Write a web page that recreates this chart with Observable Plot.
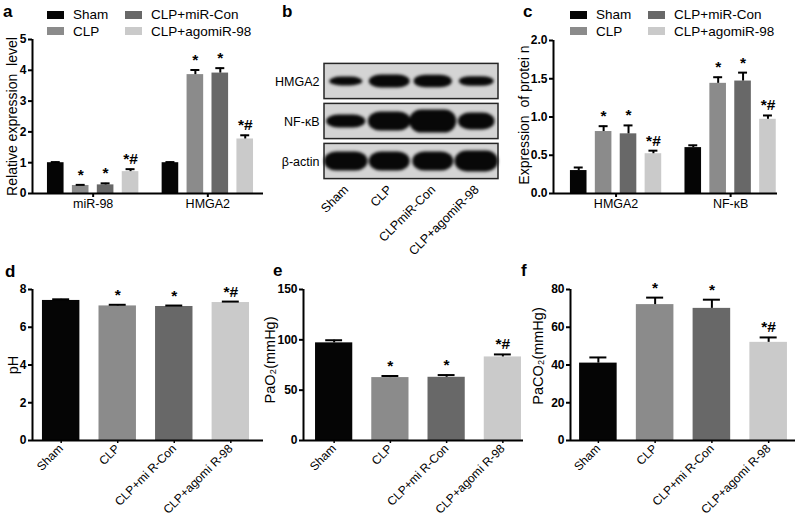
<!DOCTYPE html>
<html>
<head>
<meta charset="utf-8">
<script src="https://cdn.jsdelivr.net/npm/d3@7"></script>
<script src="https://cdn.jsdelivr.net/npm/@observablehq/plot@0.6"></script>
<style>
html,body{margin:0;padding:0;background:#fff}
#fig{position:relative;width:800px;height:517px;overflow:hidden;background:#fff;font-family:"Liberation Sans",Arial,sans-serif;color:#000}
#fig svg{position:absolute}
#fig svg text{white-space:pre}
.plab{position:absolute;font-weight:bold;font-size:17px;line-height:17px}
.legwrap{position:absolute;width:156px}
.legwrap div,.legwrap span{overflow:visible !important;font-family:"Liberation Sans",Arial,sans-serif !important;font-size:13.5px !important;line-height:15.5px !important;color:#000 !important}
.legwrap>div{margin:0 !important;columns:2 !important;column-gap:0 !important}
.legwrap svg{margin-right:9px !important;position:static !important}
</style>
</head>
<body>
<div id="fig"></div>
<script>
// ---------- data ----------
const groups = ["Sham", "CLP", "CLP+miR-Con", "CLP+agomiR-98"];
const groupColors = ["#050505", "#8b8b8b", "#686868", "#cacaca"];

// panel a
const aCategories = ["miR-98", "HMGA2"];
const aMeans = [[1.0, 0.26, 0.28, 0.71], [1.0, 3.86, 3.91, 1.77]];
const aErrors = [[0.02, 0.02, 0.05, 0.08], [0.02, 0.15, 0.16, 0.12]];
const aSig = [["", "*", "*", "*#"], ["", "*", "*", "*#"]];
const aTicks = [0, 1, 2, 3, 4, 5];

// panel b (western blot)
const blotRows = ["HMGA2", "NF-κB", "β-actin"];
const blotLanes = ["Sham", "CLP", "CLPmiR-Con", "CLP+agomiR-98"];
const bandWidths = [[0.76, 0.94, 0.88, 0.8], [0.9, 0.98, 1.08, 0.84], [1.0, 0.94, 0.94, 1.0]];
const bandThickness = [[0.22, 0.32, 0.31, 0.24], [0.32, 0.48, 0.58, 0.42], [0.48, 0.48, 0.48, 0.52]];

// panel c
const cCategories = ["HMGA2", "NF-κB"];
const cMeans = [[0.30, 0.81, 0.78, 0.52], [0.60, 1.44, 1.47, 0.97]];
const cErrors = [[0.04, 0.07, 0.11, 0.04], [0.03, 0.08, 0.11, 0.05]];
const cSig = [["", "*", "*", "*#"], ["", "*", "*", "*#"]];
const cTicks = [0, 0.5, 1, 1.5, 2];

// panels d, e, f
const bloodLabels = ["Sham", "CLP", "CLP+mi R-Con", "CLP+agomi R-98"];
const bloodSig = ["", "*", "*", "*#"];
const pHMeans = [7.42, 7.13, 7.10, 7.31];
const pHErrors = [0.06, 0.06, 0.05, 0.05];
const pHTicks = [0, 2, 4, 6, 8];
const paO2Means = [97, 62.5, 62.8, 83];
const paO2Errors = [2.6, 1.6, 2.2, 2.5];
const paO2Ticks = [0, 50, 100, 150];
const paCO2Means = [41, 72, 70, 52];
const paCO2Errors = [3, 3.7, 4.6, 2.6];
const paCO2Ticks = [0, 20, 40, 60, 80];

// ---------- helpers ----------
const FONT = '"Liberation Sans", Arial, sans-serif';
const fig = document.getElementById("fig");
function place(el, left, top) {
  el.style.position = "absolute";
  el.style.left = left + "px";
  el.style.top = top + "px";
  fig.appendChild(el);
}
const baseStyle = {fontFamily: FONT, color: "#000", background: "none", overflow: "visible"};

const GAP = 0.6, HALF = 0.333;
function groupedPanel(cfg) {
  const n = groups.length;
  const rows = [];
  cfg.cats.forEach((c, gi) => groups.forEach((g, si) => rows.push({
    group: g, pos: gi * (n + GAP) + si, v: cfg.means[gi][si], e: cfg.errs[gi][si], s: cfg.sig[gi][si]
  })));
  const centers = cfg.cats.map((c, gi) => gi * (n + GAP) + (n - 1) / 2);
  const last = (cfg.cats.length - 1) * (n + GAP) + n - 1;
  const xDomain = [-HALF - cfg.padL, last + HALF + cfg.padR];
  const yMax = cfg.ticks[cfg.ticks.length - 1];
  return Plot.plot({
    width: cfg.width, height: cfg.height,
    marginLeft: cfg.m[0], marginRight: cfg.m[1], marginTop: cfg.m[2], marginBottom: cfg.m[3],
    style: baseStyle,
    x: {domain: xDomain},
    y: {domain: [0, yMax]},
    color: {domain: groups, range: groupColors},
    marks: [
      Plot.rect(rows, {x1: d => d.pos - HALF, x2: d => d.pos + HALF, y1: 0, y2: "v", fill: "group"}),
      Plot.ruleX(rows, {x: "pos", y1: "v", y2: d => d.v + d.e, strokeWidth: 2}),
      Plot.ruleY(rows, {y: d => d.v + d.e, x1: d => d.pos - cfg.cap, x2: d => d.pos + cfg.cap, strokeWidth: 2}),
      Plot.text(rows.filter(d => d.s), {x: "pos", y: d => d.v + d.e, text: "s", lineAnchor: "bottom", dy: -5, fontSize: 15.5, fontWeight: "bold"}),
      Plot.axisY(cfg.ticks, {tickSize: 4, strokeWidth: 2, tickPadding: 2, fontSize: 12, fontWeight: "bold", tickFormat: cfg.tickFormat, label: null}),
      Plot.axisX(centers, {tickSize: 4, strokeWidth: 2, tickPadding: 2, fontSize: 12.5, tickFormat: d => cfg.cats[centers.indexOf(d)], label: null}),
      Plot.ruleX([xDomain[0]], {strokeWidth: 2}),
      Plot.ruleY([0], {strokeWidth: 2}),
      Plot.text([cfg.title], {frameAnchor: "left", textAnchor: "middle", rotate: -90, dx: cfg.titleDx, dy: cfg.titleDy || 0, fontSize: 14, text: d => d})
    ]
  });
}

const HALF2 = 0.331;
function simplePanel(cfg) {
  const rows = groups.map((g, i) => ({group: g, pos: i, v: cfg.means[i], e: cfg.errs[i], s: bloodSig[i]}));
  const xDomain = [-HALF2 - cfg.padL, groups.length - 1 + HALF2 + cfg.padR];
  const yMax = cfg.ticks[cfg.ticks.length - 1];
  return Plot.plot({
    width: cfg.width, height: cfg.height,
    marginLeft: cfg.m[0], marginRight: cfg.m[1], marginTop: cfg.m[2], marginBottom: cfg.m[3],
    style: baseStyle,
    x: {domain: xDomain},
    y: {domain: [0, yMax]},
    color: {domain: groups, range: groupColors},
    marks: [
      Plot.rect(rows, {x1: d => d.pos - HALF2, x2: d => d.pos + HALF2, y1: 0, y2: "v", fill: "group"}),
      Plot.ruleX(rows, {x: "pos", y1: "v", y2: d => d.v + d.e, strokeWidth: 2}),
      Plot.ruleY(rows, {y: d => d.v + d.e, x1: d => d.pos - 0.15, x2: d => d.pos + 0.15, strokeWidth: 2}),
      Plot.text(rows.filter(d => d.s), {x: "pos", y: d => d.v + d.e, text: "s", lineAnchor: "bottom", dy: -5, fontSize: 15.5, fontWeight: "bold"}),
      Plot.axisY(cfg.ticks, {tickSize: 4, strokeWidth: 2, tickPadding: 2, fontSize: 12, fontWeight: "bold", label: null}),
      Plot.axisX(rows.map(d => d.pos), {tickSize: 3, strokeWidth: 1.5, tickPadding: 3, tickRotate: -45, fontSize: 12, tickFormat: d => bloodLabels[d], label: null}),
      Plot.ruleX([xDomain[0]], {strokeWidth: 2}),
      Plot.ruleY([0], {strokeWidth: 2}),
      Plot.text([cfg.title], {frameAnchor: "left", textAnchor: "middle", rotate: -90, dx: cfg.titleDx, dy: cfg.titleDy || 0, fontSize: 14.5, text: d => d})
    ]
  });
}

function legend(left, top) {
  const el = Plot.legend({
    color: {type: "ordinal", domain: groups, range: groupColors},
    legend: "swatches", columns: 2, swatchWidth: 17, swatchHeight: 8, className: "lg"
  });
  const wrap = document.createElement("div");
  wrap.className = "legwrap";
  wrap.appendChild(el);
  place(wrap, left, top);
}

function panelLabel(t, left, top) {
  const el = document.createElement("div");
  el.className = "plab";
  el.textContent = t;
  place(el, left, top);
}

// ---------- panel a ----------
place(groupedPanel({
  cats: aCategories, means: aMeans, errs: aErrors, sig: aSig, ticks: aTicks,
  width: 270, height: 255, m: [32, 7, 39, 62], padL: 0.6, padR: 0.4, cap: 0.18,
  title: "Relative expression  level", titleDx: -20
}), 0, 0);
legend(47, 7);

// ---------- panel b ----------
const bands = [];
blotRows.forEach((r, ri) => blotLanes.forEach((l, li) => bands.push({row: ri, lane: li, w: bandWidths[ri][li], t: bandThickness[ri][li]})));
const blot = Plot.plot({
  width: 260, height: 255, marginLeft: 64, marginRight: 22, marginTop: 61, marginBottom: 74,
  style: baseStyle,
  x: {domain: [0, blotLanes.length]},
  y: {domain: [0, blotRows.length], reverse: true},
  marks: [
    Plot.rect(blotRows, {x1: 0, x2: blotLanes.length, y1: (d, i) => i + 0.06, y2: (d, i) => i + 0.94, fill: "#d4d4d4", stroke: "#262626", strokeWidth: 1.5}),
    Plot.rect(bands, {x1: d => d.lane + 0.5 - d.w / 2, x2: d => d.lane + 0.5 + d.w / 2, y1: d => d.row + 0.5 - d.t / 2, y2: d => d.row + 0.5 + d.t / 2, fill: "#080808", rx: 12}),
    Plot.axisY(blotRows.map((d, i) => i + 0.5), {tickSize: 0, tickPadding: 5, fontSize: 12.5, tickFormat: d => blotRows[Math.floor(d)], label: null}),
    Plot.axisX(blotLanes.map((d, i) => i + 0.5), {tickSize: 0, tickPadding: 6, tickRotate: -45, fontSize: 12.5, tickFormat: d => blotLanes[Math.floor(d)], label: null})
  ]
});
d3.select(blot).selectAll("g[aria-label='rect']").filter((d, i) => i === 1).style("filter", "blur(1.4px)");
place(blot, 260, 0);

// ---------- panel c ----------
place(groupedPanel({
  cats: cCategories, means: cMeans, errs: cErrors, sig: cSig, ticks: cTicks, tickFormat: d => d.toFixed(1),
  width: 290, height: 255, m: [43, 23, 40, 62], padL: 0.68, padR: 0.05, cap: 0.18,
  title: "Expression  of protei n", titleDx: -29, titleDy: -2
}), 510, 0);
legend(570, 7);

// ---------- panels d, e, f ----------
place(simplePanel({
  means: pHMeans, errs: pHErrors, ticks: pHTicks,
  width: 270, height: 262, m: [32, 7, 34, 77], padL: 0.176, padR: 0.247,
  title: "pH", titleDx: -19
}), 0, 255);
place(simplePanel({
  means: paO2Means, errs: paO2Errors, ticks: paO2Ticks,
  width: 270, height: 262, m: [43, 7, 34, 77], padL: 0.214, padR: 0.036,
  title: "PaO₂(mmHg)", titleDx: -33, titleDy: -5
}), 260, 255);
place(simplePanel({
  means: paCO2Means, errs: paCO2Errors, ticks: paCO2Ticks,
  width: 270, height: 262, m: [40, 5, 34, 77], padL: 0.16, padR: 0.142,
  title: "PaCO₂(mmHg)", titleDx: -32, titleDy: -9
}), 530, 255);

// ---------- panel letters ----------
panelLabel("a", 3, 3);
panelLabel("b", 282, 3);
panelLabel("c", 523, 3);
panelLabel("d", 5, 263);
panelLabel("e", 273, 262);
panelLabel("f", 521, 262);
</script>
</body>
</html>
